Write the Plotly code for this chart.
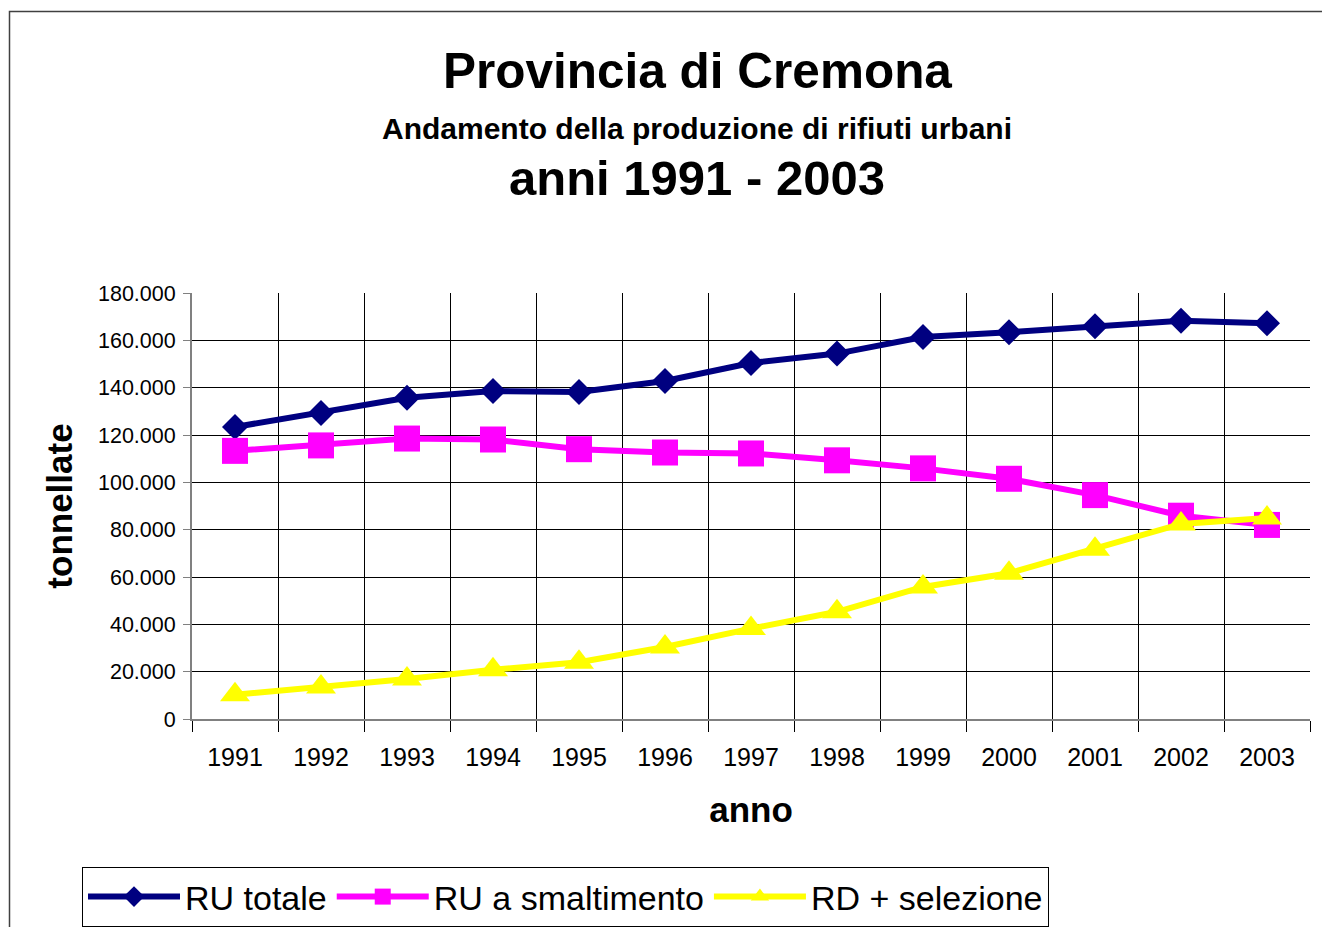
import plotly.graph_objects as go

# ---- data ----
years = [1991, 1992, 1993, 1994, 1995, 1996, 1997, 1998, 1999, 2000, 2001, 2002, 2003]
ru_totale = [123400, 129300, 135700, 138600, 138200, 142800, 150400, 154400, 161400, 163400, 165900, 168300, 167200]
ru_smaltimento = [113300, 115600, 118500, 118100, 114000, 112600, 112200, 109300, 105900, 101500, 94600, 85900, 82000]
rd_selezione = [10250, 13500, 16900, 20800, 24000, 30400, 38200, 45300, 55800, 61600, 71700, 82400, 84900]
y_ticks = [0, 20000, 40000, 60000, 80000, 100000, 120000, 140000, 160000, 180000]

series_names = ["RU totale", "RU a smaltimento", "RD + selezione"]
title_lines = ["Provincia di Cremona", "Andamento della produzione di rifiuti urbani", "anni 1991 - 2003"]

# ---- layout geometry ----
W, H = 1322, 927
ML, MR, MT, MB = 192, 12, 293, 208
PW, PH = W - ML - MR, H - MT - MB
FONT = "Liberation Sans, Arial, sans-serif"


def px_x(x):
    return (x - ML) / PW


def px_y(y):
    return (H - MB - y) / PH


fig = go.Figure()
fig.add_trace(go.Scatter(
    x=years, y=ru_totale, name=series_names[0], mode="lines+markers",
    line=dict(color="#000080", width=6),
    marker=dict(symbol="diamond", size=20, color="#000080"),
))
fig.add_trace(go.Scatter(
    x=years, y=ru_smaltimento, name=series_names[1], mode="lines+markers",
    line=dict(color="#FF00FF", width=6),
    marker=dict(symbol="square", size=26, color="#FF00FF"),
))
fig.add_trace(go.Scatter(
    x=years, y=rd_selezione, name=series_names[2], mode="lines+markers",
    line=dict(color="#FFFF00", width=6),
    marker=dict(symbol="triangle-up", size=26, color="#FFFF00"),
))

fig.update_layout(
    width=W, height=H,
    margin=dict(l=ML, r=MR, t=MT, b=MB, pad=0),
    paper_bgcolor="white", plot_bgcolor="white",
    separators=",.",
    font=dict(family=FONT, color="black"),
    showlegend=True,
    legend=dict(
        orientation="h",
        xref="container", x=565.5 / W, xanchor="center",
        yref="container", y=(H - 867) / H, yanchor="top",
        bordercolor="black", borderwidth=1, bgcolor="white",
        font=dict(size=34, family=FONT, color="black"),
        itemwidth=92, tracegroupgap=0,
    ),
    xaxis=dict(
        range=[1990.5, 2003.5],
        tickmode="array", tickvals=years, ticktext=[str(y) for y in years],
        ticks="", showgrid=False, zeroline=False,
        showline=True, linecolor="#808080", linewidth=2,
        tickfont=dict(size=25, family=FONT, color="black"),
        ticklabelstandoff=15,
        minor=dict(tick0=1990.5, dtick=1, showgrid=True, gridcolor="black", gridwidth=1,
                   ticks="outside", ticklen=11, tickcolor="black", tickwidth=1),
        title=dict(text="<b>anno</b>", font=dict(size=35, family=FONT, color="black"), standoff=27),
        fixedrange=True,
    ),
    yaxis=dict(
        range=[0, 180000],
        tickmode="array", tickvals=y_ticks, tickformat=",d",
        showgrid=True, gridcolor="black", gridwidth=1, zeroline=False,
        showline=True, linecolor="#808080", linewidth=2,
        ticks="outside", ticklen=7, tickcolor="#808080", tickwidth=1,
        tickfont=dict(size=21.5, family=FONT, color="black"),
        ticklabelstandoff=3,
        title=dict(text="<b>tonnellate</b>", font=dict(size=35, family=FONT, color="black"), standoff=15),
        fixedrange=True,
    ),
)

# titles as annotations
title_specs = [(title_lines[0], 49.5, 70), (title_lines[1], 30, 128), (title_lines[2], 49, 178)]
for text, size, ycen in title_specs:
    fig.add_annotation(
        text=f"<b>{text}</b>", xref="paper", yref="paper",
        x=px_x(697), y=px_y(ycen), xanchor="center", yanchor="middle",
        showarrow=False, font=dict(size=size, family=FONT, color="black"),
    )

# chart-area frame (extends past the right and bottom edges in the reference)
fig.add_shape(
    type="rect", xref="paper", yref="paper",
    x0=px_x(9.5), x1=px_x(1340), y0=px_y(950), y1=px_y(11.5),
    line=dict(color="#404040", width=1.5), fillcolor="rgba(0,0,0,0)", layer="below",
)

fig.write_html(
    "out.html",
    config={"displayModeBar": False},
    post_script="document.body.style.margin='0';document.body.style.overflow='hidden';",
)
